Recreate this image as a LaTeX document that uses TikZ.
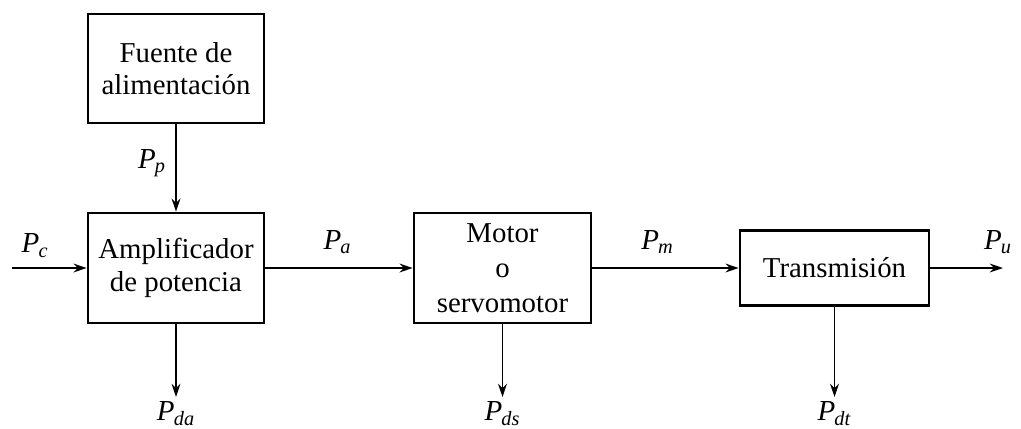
\documentclass[tikz,border=0pt]{standalone}
\usepackage{fontspec}
\setmainfont{Liberation Serif}
\usetikzlibrary{arrows.meta}
\newcommand{\pw}[1]{\textit{P}\textsubscript{\kern-0.04em\textit{#1}}}

\begin{document}
\begin{tikzpicture}[>={Stealth[length=7.5pt,width=5pt]},
  bloque/.style={draw, line width=1.5pt, align=center, inner sep=0pt,
    font=\fontsize{16.4}{18.5}\selectfont},
  flujo/.style={->, line width=1.1pt},
  etiq/.style={font=\fontsize{16.5}{19}\selectfont}]
  \useasboundingbox (0,0) rectangle (20.42,8.56);
  % bloques
  \node[bloque, minimum width=3.52cm, minimum height=2.18cm] (fuente) at (3.52,7.19) {Fuente de\\alimentación};
  \node[bloque, minimum width=3.52cm, minimum height=2.2cm] (ampli) at (3.52,3.2) {Amplificador\\de potencia};
  \node[bloque, minimum width=3.54cm, minimum height=2.2cm, font=\fontsize{16.4}{20}\selectfont] (motor) at (10.05,3.2) {Motor\\o\\servomotor};
  \node[bloque, minimum width=3.78cm, minimum height=1.5cm] (trans) at (16.69,3.2) {Transmisión};
  % extremos libres
  \coordinate (pin) at (0.24,3.2);
  \coordinate (pout) at (20.06,3.2);
  \coordinate (dA) at (ampli.south |- 0,0.62);
  \coordinate (dS) at (motor.south |- 0,0.62);
  \coordinate (dT) at (trans.south |- 0,0.62);
  % flujos de potencia
  \draw[flujo] (pin) -- (ampli);
  \draw[flujo] (fuente) -- (ampli);
  \draw[flujo] (ampli) -- (motor);
  \draw[flujo] (motor) -- (trans);
  \draw[flujo] (trans) -- (pout);
  \draw[flujo] (ampli) -- (dA);
  \draw[flujo] (motor) -- (dS);
  \draw[flujo] (trans) -- (dT);
  % etiquetas
  \node[etiq] (lc) at (0.7,3.65) {\pw{c}};
  \node[etiq] (lp) at (3.04,5.3) {\pw{p}};
  \node[etiq] (la) at (6.75,3.72) {\pw{a}};
  \node[etiq] (lm) at (13.15,3.72) {\pw{m}};
  \node[etiq] (lu) at (19.96,3.72) {\pw{u}};
  \node[etiq, below=-1pt] (lda) at (dA) {\pw{da}};
  \node[etiq, below=-1pt] (lds) at (dS) {\pw{ds}};
  \node[etiq, below=-1pt] (ldt) at (dT) {\pw{dt}};
\end{tikzpicture}
\end{document}
